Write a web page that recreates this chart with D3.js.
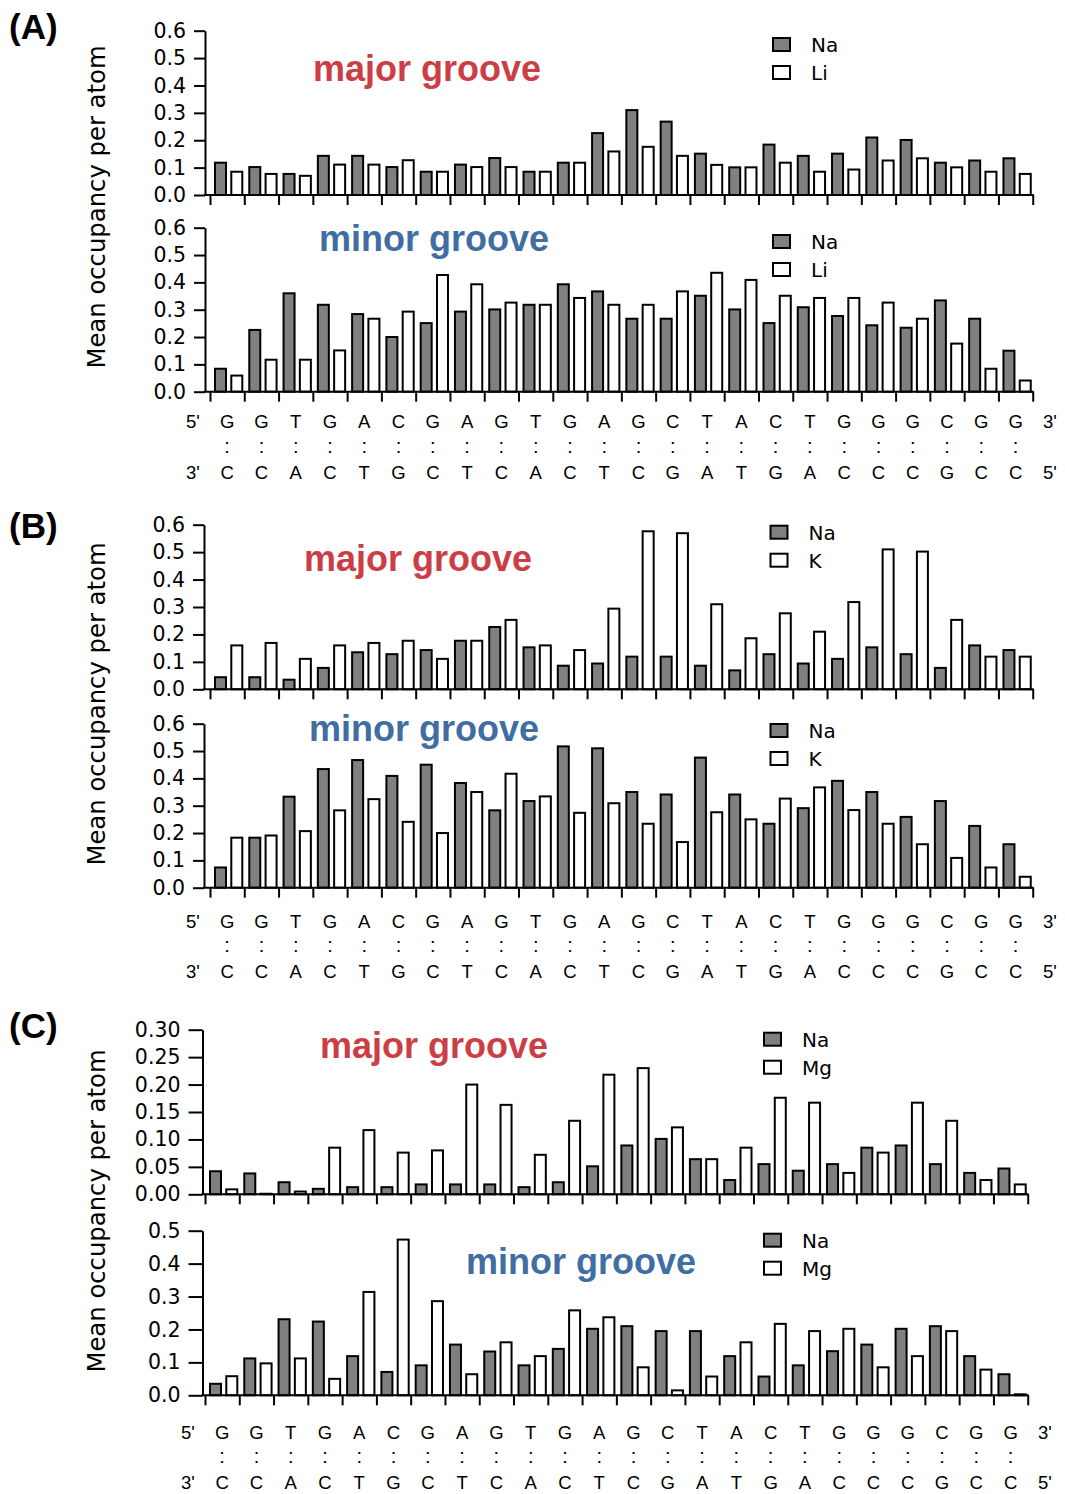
<!DOCTYPE html>
<html>
<head>
<meta charset="utf-8">
<script src="https://cdn.jsdelivr.net/npm/d3@7"></script>
<style>
  html, body { margin: 0; padding: 0; background: #fff; }
  svg { display: block; }
</style>
</head>
<body>
<div id="chart"></div>
<script>
// ---- Sequence of the 24-bp duplex -------------------------------------------
const topStrand    = ["G","G","T","G","A","C","G","A","G","T","G","A","G","C","T","A","C","T","G","G","G","C","G","G"];
const bottomStrand = ["C","C","A","C","T","G","C","T","C","A","C","T","C","G","A","T","G","A","C","C","C","G","C","C"];

// ---- (A) Na vs Li -------------------------------------------------------------
const aMajorNa = [0.118,0.102,0.077,0.143,0.143,0.102,0.085,0.111,0.135,0.085,0.118,0.226,0.310,0.268,0.151,0.101,0.184,0.143,0.151,0.210,0.201,0.118,0.126,0.134];
const aMajorLi = [0.085,0.077,0.070,0.111,0.111,0.127,0.085,0.102,0.102,0.085,0.118,0.159,0.176,0.143,0.110,0.101,0.118,0.085,0.093,0.126,0.134,0.101,0.085,0.077];
const aMinorNa = [0.084,0.226,0.360,0.318,0.284,0.200,0.251,0.293,0.301,0.318,0.393,0.367,0.267,0.267,0.351,0.301,0.251,0.309,0.277,0.243,0.234,0.334,0.267,0.150];
const aMinorLi = [0.059,0.117,0.117,0.151,0.267,0.293,0.427,0.393,0.326,0.318,0.343,0.318,0.318,0.367,0.435,0.409,0.351,0.343,0.343,0.326,0.267,0.176,0.084,0.041];

// ---- (B) Na vs K --------------------------------------------------------------
const bMajorNa = [0.044,0.044,0.035,0.078,0.135,0.128,0.143,0.177,0.227,0.153,0.086,0.094,0.119,0.119,0.086,0.069,0.128,0.094,0.111,0.153,0.128,0.078,0.160,0.143];
const bMajorK  = [0.160,0.169,0.111,0.160,0.169,0.177,0.111,0.177,0.253,0.160,0.143,0.294,0.576,0.569,0.310,0.186,0.277,0.210,0.318,0.510,0.502,0.253,0.119,0.119];
const bMinorNa = [0.074,0.183,0.333,0.434,0.467,0.409,0.450,0.383,0.283,0.317,0.517,0.510,0.350,0.341,0.476,0.341,0.234,0.291,0.391,0.350,0.259,0.317,0.226,0.159];
const bMinorK  = [0.183,0.191,0.207,0.283,0.324,0.241,0.200,0.350,0.417,0.334,0.274,0.309,0.234,0.167,0.276,0.250,0.326,0.367,0.284,0.234,0.159,0.109,0.074,0.040];

// ---- (C) Na vs Mg -------------------------------------------------------------
const cMajorNa = [0.042,0.038,0.022,0.010,0.013,0.013,0.018,0.018,0.018,0.013,0.022,0.051,0.089,0.101,0.064,0.026,0.055,0.043,0.055,0.085,0.089,0.055,0.039,0.047];
const cMajorMg = [0.009,0.001,0.005,0.085,0.117,0.076,0.080,0.200,0.163,0.072,0.134,0.218,0.230,0.122,0.064,0.085,0.176,0.167,0.039,0.076,0.167,0.134,0.026,0.018];
const cMinorNa = [0.035,0.112,0.231,0.224,0.119,0.071,0.091,0.154,0.133,0.091,0.141,0.202,0.210,0.195,0.195,0.119,0.057,0.091,0.134,0.154,0.202,0.210,0.119,0.064];
const cMinorMg = [0.058,0.097,0.112,0.050,0.314,0.473,0.286,0.064,0.161,0.119,0.258,0.237,0.085,0.015,0.057,0.161,0.217,0.195,0.202,0.085,0.119,0.195,0.078,0.003];

// ---- Axis ticks ---------------------------------------------------------------
const ticksTenths   = [0, 0.1, 0.2, 0.3, 0.4, 0.5, 0.6];
const ticksCMajor   = [0, 0.05, 0.10, 0.15, 0.20, 0.25, 0.30];
const ticksCMinor   = [0, 0.1, 0.2, 0.3, 0.4, 0.5];

// ---- Layout -------------------------------------------------------------------
const W = 1065, H = 1494;
const STEP = 34.28;           // width of one base-pair slot
const RED = "#cc3e45", BLUE = "#406ea3", GRAY = "#808080";
const NUM_FONT = "'DejaVu Sans', sans-serif";
const SEQ_FONT = "'Liberation Sans', Arial, sans-serif";

const panels = [
  {
    tag: "(A)", tagY: 39, ion: "Li", yAxisX: 205, x0: 210, labelCY: 207, tickLen: 11,
    rows: [428, 453, 479],
    plots: [
      { top: 30.7,  bottom: 195,   max: 0.6, ticks: ticksTenths, fmt: ".1f", na: aMajorNa, other: aMajorLi,
        title: "major groove", color: RED,  titleX: 427, titleY: 81,  legX: 772, legY: 37 },
      { top: 227.7, bottom: 391.7, max: 0.6, ticks: ticksTenths, fmt: ".1f", na: aMinorNa, other: aMinorLi,
        title: "minor groove", color: BLUE, titleX: 434, titleY: 251, legX: 772, legY: 234 }
    ]
  },
  {
    tag: "(B)", tagY: 538, ion: "K", yAxisX: 204, x0: 210, labelCY: 704, tickLen: 11,
    rows: [928, 952, 978],
    plots: [
      { top: 524.7, bottom: 689.3, max: 0.6, ticks: ticksTenths, fmt: ".1f", na: bMajorNa, other: bMajorK,
        title: "major groove", color: RED,  titleX: 418, titleY: 571, legX: 769.5, legY: 524.7 },
      { top: 723.7, bottom: 887.7, max: 0.6, ticks: ticksTenths, fmt: ".1f", na: bMinorNa, other: bMinorK,
        title: "minor groove", color: BLUE, titleX: 424, titleY: 741, legX: 769.5, legY: 723 }
    ]
  },
  {
    tag: "(C)", tagY: 1038, ion: "Mg", yAxisX: 202.5, x0: 205, labelCY: 1211, tickLen: 14,
    rows: [1439, 1463, 1489],
    plots: [
      { top: 1029.7, bottom: 1194.3, max: 0.30, ticks: ticksCMajor, fmt: ".2f", na: cMajorNa, other: cMajorMg,
        title: "major groove", color: RED,  titleX: 434, titleY: 1058, legX: 763, legY: 1031.7 },
      { top: 1230.7, bottom: 1395.3, max: 0.5, ticks: ticksCMinor, fmt: ".1f", na: cMinorNa, other: cMinorMg,
        title: "minor groove", color: BLUE, titleX: 581, titleY: 1274, legX: 763, legY: 1232.7 }
    ]
  }
];

const svg = d3.select("#chart").append("svg")
  .attr("width", W).attr("height", H)
  .attr("viewBox", `0 0 ${W} ${H}`);

svg.append("rect").attr("width", W).attr("height", H).attr("fill", "#fff");

const nPairs = topStrand.length;

panels.forEach(p => {
  const g = svg.append("g");

  // slot scale for base pairs
  const x = d3.scaleBand().domain(d3.range(nPairs))
    .range([p.x0, p.x0 + nPairs * STEP]).padding(0);
  // boundary scale used for the tick marks between slots
  const xb = d3.scaleLinear().domain([0, nPairs]).range([p.x0, p.x0 + nPairs * STEP]);
  // Na / second-ion offset inside a slot
  const sub = d3.scaleBand().domain(["Na", p.ion]).range([5, 32.3]).paddingInner(0.325);

  // panel tag
  g.append("text")
    .attr("x", 9).attr("y", p.tagY)
    .attr("font-family", SEQ_FONT).attr("font-weight", "bold")
    .attr("font-size", 35).attr("fill", "#000")
    .text(p.tag);

  // y axis title, shared by both grooves
  g.append("text")
    .attr("transform", `translate(96,${p.labelCY}) rotate(-90)`)
    .attr("text-anchor", "middle").attr("dominant-baseline", "central")
    .attr("font-family", NUM_FONT).attr("font-size", 24.3).attr("fill", "#000")
    .text("Mean occupancy per atom");

  p.plots.forEach(pl => {
    const y = d3.scaleLinear().domain([0, pl.max]).range([pl.bottom, pl.top]);

    // bars
    const rows = d3.range(nPairs).map(i => ({ i, na: pl.na[i], other: pl.other[i] }));
    const slot = g.append("g").selectAll("g").data(rows).join("g")
      .attr("transform", d => `translate(${x(d.i)},0)`);
    slot.append("rect")
      .attr("x", sub("Na")).attr("width", sub.bandwidth())
      .attr("y", d => y(d.na)).attr("height", d => y(0) - y(d.na))
      .attr("fill", GRAY).attr("stroke", "#000").attr("stroke-width", 2);
    slot.append("rect")
      .attr("x", sub(p.ion)).attr("width", sub.bandwidth())
      .attr("y", d => y(d.other)).attr("height", d => y(0) - y(d.other))
      .attr("fill", "#fff").attr("stroke", "#000").attr("stroke-width", 2);

    // y axis
    const ya = g.append("g")
      .attr("transform", `translate(${p.yAxisX},0)`)
      .call(d3.axisLeft(y).tickValues(pl.ticks).tickFormat(d3.format(pl.fmt))
        .tickSize(p.tickLen).tickSizeOuter(0).tickPadding(8));
    ya.selectAll("path, line").attr("stroke", "#000").attr("stroke-width", 2);
    ya.selectAll("text").attr("font-family", NUM_FONT).attr("font-size", 20.5).attr("fill", "#000");

    // x axis: baseline with slot boundary ticks
    const xa = g.append("g")
      .attr("transform", `translate(0,${y(0)})`)
      .call(d3.axisBottom(xb).tickValues(d3.range(nPairs + 1)).tickFormat("")
        .tickSize(10).tickSizeOuter(0));
    xa.select(".domain").remove();
    xa.selectAll("line").attr("stroke", "#000").attr("stroke-width", 2);
    xa.append("line")
      .attr("x1", p.yAxisX - 1).attr("x2", xb(nPairs) + 1)
      .attr("y1", 0).attr("y2", 0)
      .attr("stroke", "#000").attr("stroke-width", 2);

    // groove title
    g.append("text")
      .attr("x", pl.titleX).attr("y", pl.titleY)
      .attr("text-anchor", "middle")
      .attr("font-family", SEQ_FONT).attr("font-weight", "bold")
      .attr("font-size", 36).attr("fill", pl.color)
      .text(pl.title);

    // legend
    const legend = g.append("g").attr("transform", `translate(${pl.legX},${pl.legY})`);
    [["Na", GRAY], [p.ion, "#fff"]].forEach(([name, fill], k) => {
      legend.append("rect")
        .attr("x", 1).attr("y", 1 + k * 28)
        .attr("width", 17).attr("height", 13)
        .attr("fill", fill).attr("stroke", "#000").attr("stroke-width", 2);
      legend.append("text")
        .attr("x", 39).attr("y", 8 + k * 28)
        .attr("dominant-baseline", "central")
        .attr("font-family", NUM_FONT).attr("font-size", 20).attr("fill", "#000")
        .text(name);
    });
  });

  // sequence rows under the lower plot
  const center = i => x(i) + x.bandwidth() / 2;
  const seqText = (cx, cy, s, size) => g.append("text")
    .attr("x", cx).attr("y", cy).attr("text-anchor", "middle")
    .attr("font-family", SEQ_FONT).attr("font-size", size).attr("fill", "#000")
    .text(s);

  seqText(center(0) - STEP, p.rows[0], "5'", 18.5);
  seqText(center(nPairs - 1) + STEP, p.rows[0], "3'", 18.5);
  seqText(center(0) - STEP, p.rows[2], "3'", 18.5);
  seqText(center(nPairs - 1) + STEP, p.rows[2], "5'", 18.5);
  topStrand.forEach((b, i) => seqText(center(i), p.rows[0], b, 18.5));
  topStrand.forEach((b, i) => seqText(center(i), p.rows[1], ":", 20));
  bottomStrand.forEach((b, i) => seqText(center(i), p.rows[2], b, 18.5));
});
</script>
</body>
</html>
